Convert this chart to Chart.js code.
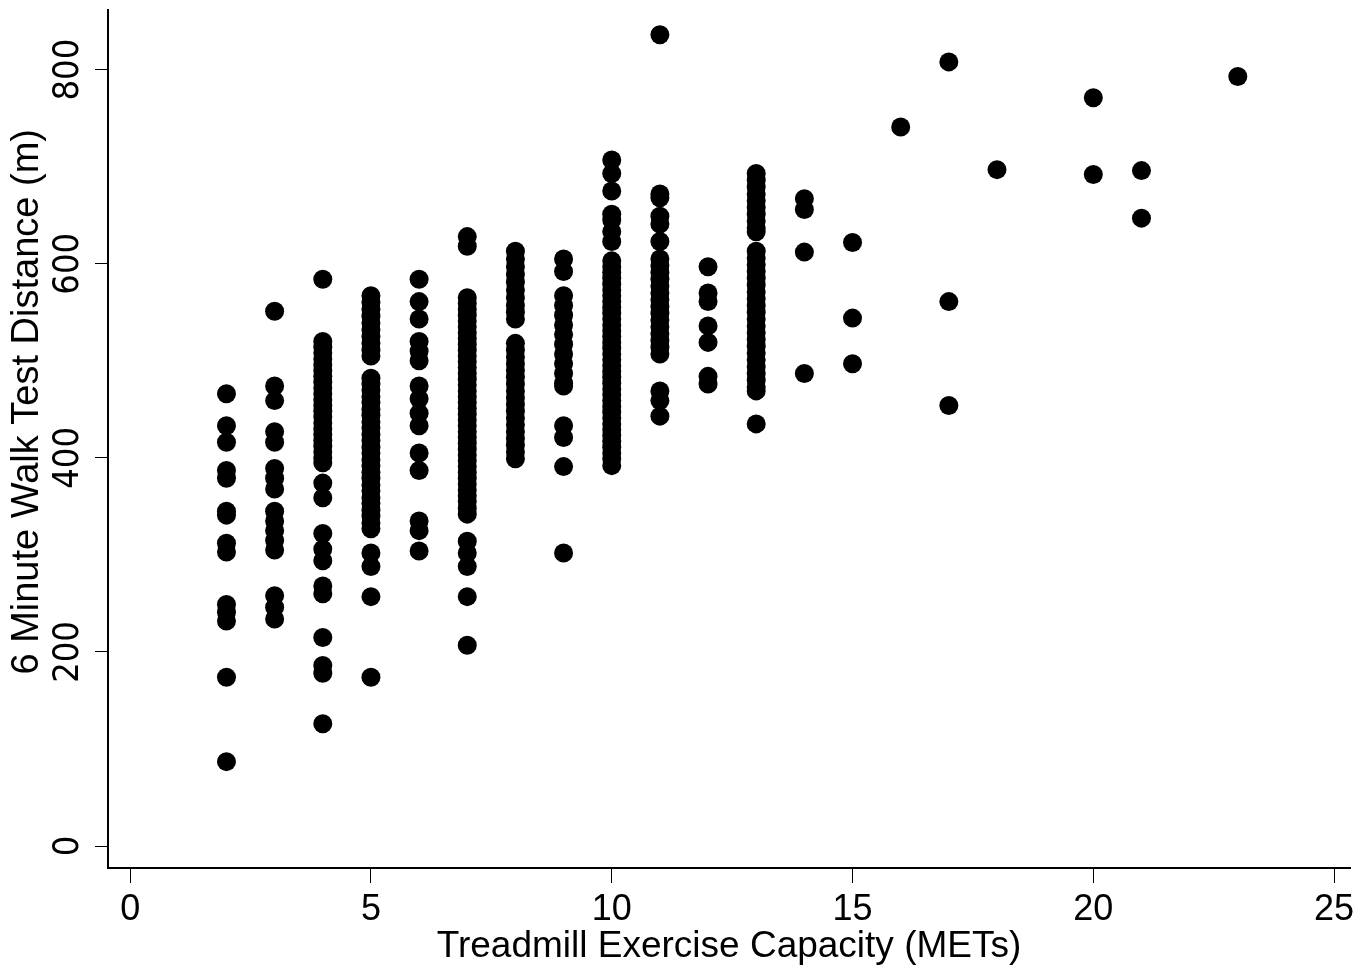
<!DOCTYPE html>
<html>
<head>
<meta charset="utf-8">
<script src="https://cdn.jsdelivr.net/npm/chart.js@4"></script>
<style>
  body { margin: 0; background: #fff; }
  canvas { display: block; }
</style>
</head>
<body>
<canvas id="walkChart" width="1371" height="973"></canvas>
<script>
// treadmill METs levels and the 6MWT distances (m) observed at each level
var metsLevels = [2, 3, 4, 5, 6, 7, 8, 9, 10, 11, 12, 13, 14, 15, 16, 17, 18, 20, 21, 23];

var walk2 = [466, 433, 416, 387, 379, 345, 341, 312, 303, 249, 241, 232, 174, 87];
var walk3 = [551, 474, 459, 427, 416, 389, 379, 368, 345, 335, 325, 315, 305, 258, 246, 234];
var walk4 = [584, 520, 514, 508, 502, 496, 490, 484, 478, 472, 466, 460, 454, 448, 442, 436, 430, 424, 418,
             412, 406, 400, 395, 374, 359, 322, 306, 294, 268, 260, 215, 186, 178, 126];
var walk5 = [567, 560, 553, 546, 539, 532, 525, 518, 511, 505, 482, 476, 470, 463, 457, 450, 444, 437, 431,
             424, 418, 411, 405, 398, 392, 385, 379, 372, 366, 359, 353, 346, 340, 333, 327, 302, 288, 257, 174];
var walk6 = [584, 561, 543, 520, 510, 500, 474, 461, 446, 433, 405, 387, 335, 325, 304];
var walk7 = [628, 618, 565, 559, 553, 547, 541, 535, 529, 523, 517, 511, 505, 499, 493, 487, 481, 475, 469,
             463, 457, 451, 445, 439, 433, 427, 421, 415, 409, 403, 397, 391, 385, 379, 373, 367, 361, 355,
             348, 342, 314, 302, 288, 257, 207];
var walk8 = [613, 605, 597, 589, 581, 573, 565, 557, 550, 543, 518, 511, 504, 497, 490, 483, 476, 469, 462,
             455, 448, 441, 434, 427, 420, 413, 406, 399];
var walk9 = [605, 592, 567, 557, 547, 537, 527, 517, 507, 497, 487, 477, 474, 433, 421, 391, 302];
var walk10 = [707, 693, 675, 651, 645, 633, 623, 603, 597, 591, 585, 579, 573, 567, 561, 555, 549, 543, 537,
              531, 525, 519, 513, 507, 501, 495, 489, 483, 477, 471, 465, 459, 453, 447, 441, 435, 429, 423,
              417, 411, 405, 399, 392];
var walk11 = [836, 672, 668, 649, 641, 623, 605, 598, 591, 584, 577, 570, 563, 556, 549, 542, 535, 528, 521,
              514, 507, 469, 459, 443];
var walk12 = [597, 570, 561, 536, 519, 484, 476];
var walk13 = [693, 686, 679, 672, 665, 658, 651, 644, 637, 633, 613, 606, 599, 592, 585, 578, 571, 564, 557,
              550, 543, 536, 529, 522, 515, 508, 501, 494, 487, 480, 473, 469, 435];
var walk14 = [667, 656, 612, 487];
var walk15 = [622, 544, 497];
var walk16 = [741];
var walk17 = [808, 561, 454];
var walk18 = [697];
var walk20 = [771, 692];
var walk21 = [696, 647];
var walk23 = [793];

var walkByLevel = [walk2, walk3, walk4, walk5, walk6, walk7, walk8, walk9, walk10, walk11, walk12, walk13,
                   walk14, walk15, walk16, walk17, walk18, walk20, walk21, walk23];

var xTicks = [0, 5, 10, 15, 20, 25];
var yTicks = [0, 200, 400, 600, 800];

var points = [];
metsLevels.forEach(function (mets, i) {
    walkByLevel[i].forEach(function (d) {
        points.push({ x: mets, y: d });
    });
});

var fontFamily = '"Liberation Sans", Arial, Helvetica, sans-serif';
var narrowFamily = '"Liberation Sans Narrow", "Arial Narrow", "DejaVu Sans Condensed", sans-serif';

var ctx = document.getElementById('walkChart').getContext('2d');
new Chart(ctx, {
    type: 'scatter',
    data: {
        datasets: [{
            data: points,
            pointRadius: 9.5,
            pointHoverRadius: 9.5,
            pointBackgroundColor: '#000',
            pointBorderWidth: 0
        }]
    },
    options: {
        responsive: false,
        animation: false,
        layout: { padding: { top: 8, right: 21, left: 0, bottom: 0 } },
        plugins: {
            legend: { display: false },
            tooltip: { enabled: false }
        },
        scales: {
            x: {
                type: 'linear',
                min: -0.46,
                max: 25.33,
                afterBuildTicks: function (scale) {
                    scale.ticks = xTicks.map(function (v) { return { value: v }; });
                },
                afterFit: function (scale) {
                    scale.height = 105;
                    scale.paddingLeft = 0;
                    scale.paddingRight = 0;
                },
                border: { display: true, color: '#000', width: 2 },
                grid: { display: true, drawOnChartArea: false, drawTicks: true, tickLength: 15, color: '#000', lineWidth: 1 },
                ticks: { color: '#000', font: { family: fontFamily, size: 36 }, padding: 5, maxRotation: 0 },
                title: {
                    display: true,
                    text: 'Treadmill Exercise Capacity (METs)',
                    color: '#000',
                    font: { family: fontFamily, size: 37 },
                    padding: { top: 0, bottom: 4 }
                }
            },
            y: {
                type: 'linear',
                min: -22.6,
                max: 862,
                afterBuildTicks: function (scale) {
                    scale.ticks = yTicks.map(function (v) { return { value: v }; });
                },
                afterFit: function (scale) {
                    scale.width = 108;
                    scale.paddingTop = 0;
                    scale.paddingBottom = 0;
                },
                border: { display: true, color: '#000', width: 2 },
                grid: { display: true, drawOnChartArea: false, drawTicks: true, tickLength: 13, color: '#000', lineWidth: 1 },
                ticks: {
                    color: '#000',
                    font: { family: narrowFamily, size: 36 },
                    minRotation: 90,
                    maxRotation: 90,
                    crossAlign: 'center',
                    padding: -5
                },
                title: {
                    display: true,
                    // leading spaces shift the centred title up, as in the original
                    text: '       6 Minute Walk Test Distance (m)',
                    color: '#000',
                    font: { family: fontFamily, size: 38 },
                    padding: { top: 5, bottom: 0 }
                }
            }
        }
    }
});
</script>
</body>
</html>
